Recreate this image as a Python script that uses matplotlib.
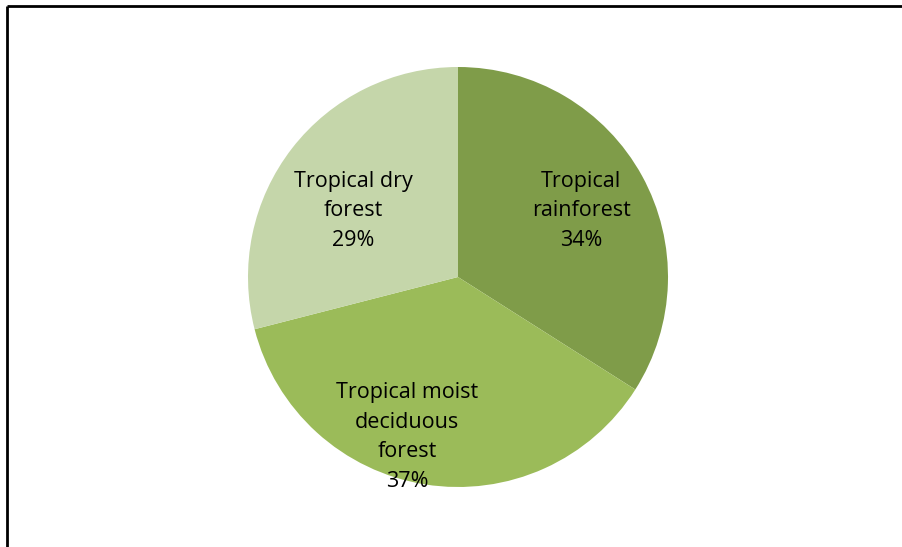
import matplotlib
matplotlib.use("Agg")
import matplotlib.pyplot as plt

categories = ["Tropical\nrainforest", "Tropical moist\ndeciduous\nforest", "Tropical dry\nforest"]
values = [34, 37, 29]
colors = ["#7F9C49", "#9BBB59", "#C5D6AA"]

W, H = 902, 547
fig = plt.figure(figsize=(W / 100, H / 100), dpi=100)
ax = fig.add_axes([0, 0, 1, 1])

cx, cy, r = 458, H - 277, 210
wedges, _ = ax.pie(values, colors=colors, startangle=90, counterclock=False,
                   center=(cx, cy), radius=r, frame=True,
                   wedgeprops=dict(linewidth=0))
ax.set_xlim(0, W)
ax.set_ylim(0, H)
ax.axis("off")

label_pos = [(581, 211), (407, 437), (353, 211)]
total = sum(values)
for (x, y), cat, v in zip(label_pos, categories, values):
    ax.text(x, H - y, f"{cat}\n{round(100 * v / total)}%", ha="center", va="center",
            fontsize=15.5, family="Open Sans", color="black", linespacing=1.56)

# frame (top and left edges visible)
ax.plot([7, 7], [0, H - 6], color="black", lw=2, solid_capstyle="butt")
ax.plot([7, W], [H - 6, H - 6], color="black", lw=2, solid_capstyle="butt")

fig.savefig("out.png", dpi=100)
